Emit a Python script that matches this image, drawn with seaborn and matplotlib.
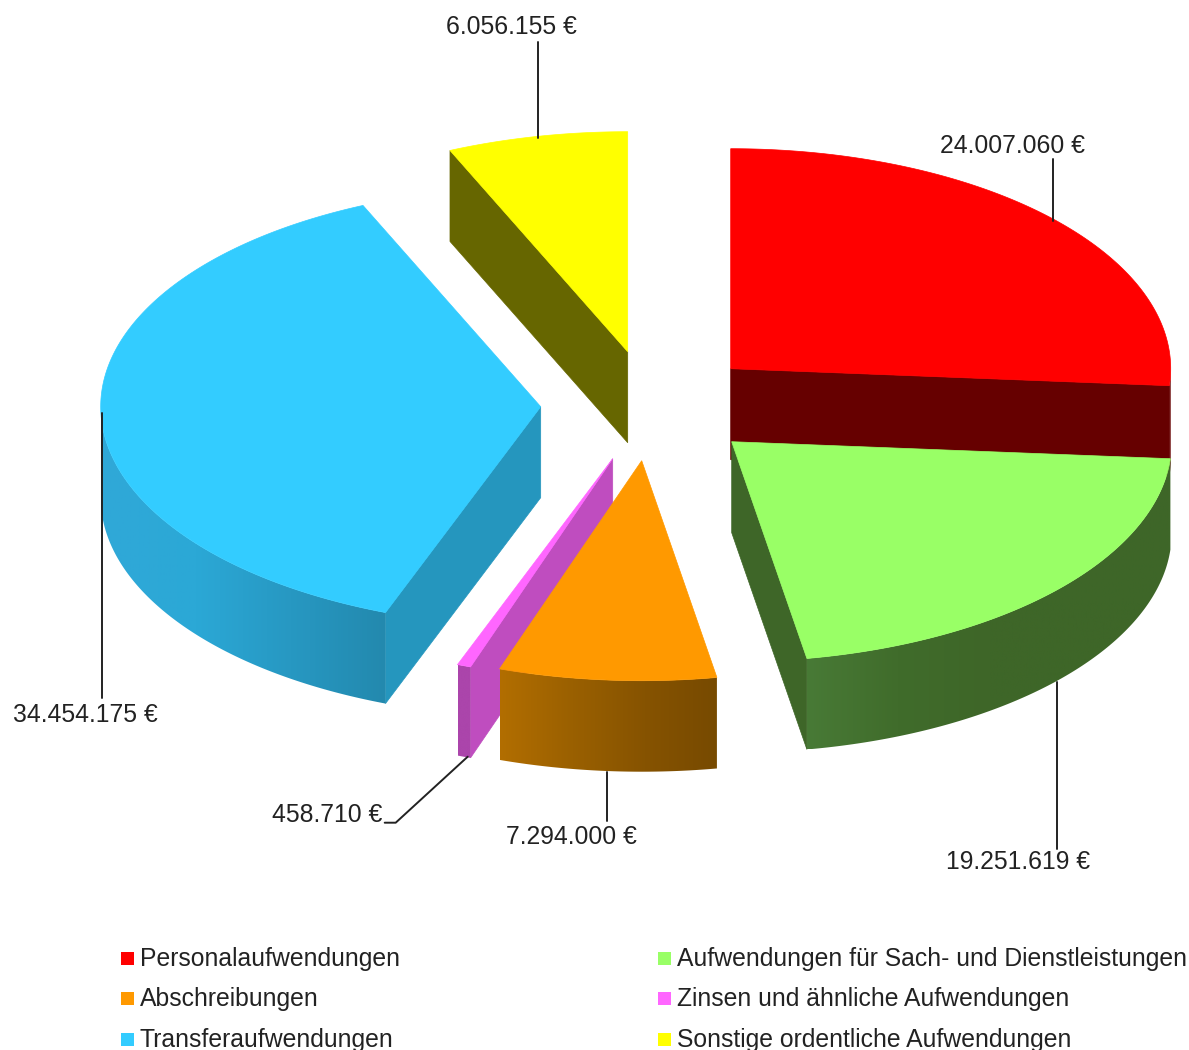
import numpy as np
import seaborn as sns
import matplotlib.pyplot as plt
from matplotlib.colors import LinearSegmentedColormap
from matplotlib.patches import Polygon

categories = ['Personalaufwendungen', 'Aufwendungen für Sach- und Dienstleistungen', 'Abschreibungen',
              'Zinsen und ähnliche Aufwendungen', 'Transferaufwendungen', 'Sonstige ordentliche Aufwendungen']
values = [24007060, 19251619, 7294000, 458710, 34454175, 6056155]
value_labels = ['24.007.060 €', '19.251.619 €', '7.294.000 €', '458.710 €', '34.454.175 €', '6.056.155 €']

top_colors = ['#ff0000', '#99ff66', '#ff9900', '#ff66ff', '#33ccff', '#ffff00']
face_colors = ['#660000', '#3e6628', '#7a4b00', '#bf4dbf', '#2596be', '#666600']
rim_colors = [['#660000', '#660000'],
              ['#487a36', '#406c2b', '#3e6628', '#3e6628', '#3e6628'],
              ['#b26e00', '#9a6000', '#865300', '#774a00'],
              ['#ab45ab', '#ab45ab'],
              ['#30a8d8', '#2ba8d6', '#2798c2', '#2389ae'],
              ['#666600', '#666600']]

# pie geometry in pixels, each slice has its own exploded apex
rx, ry, depth = 440, 220, 91
apex = [(730, 368), (731, 441), (641, 460), (612, 458), (540, 406), (627, 351)]
draw_order = [5, 0, 4, 3, 2, 1]

# leader lines and where the value labels go
leaders = [([1052, 1052], [158, 220]),
           ([1056, 1056], [681, 848]),
           ([606, 606], [771, 820]),
           ([467, 395, 384], [756, 822, 822]),
           ([101, 101], [412, 697]),
           ([537, 537], [41, 137])]
label_pos = [(1012, 145), (1017, 861), (571, 836), (326, 814), (85, 714), (511, 26)]

legend_x = [127, 664, 127, 664, 127, 664]
legend_y = [958, 958, 998, 998, 1039, 1039]

sns.set_theme(style='white')
plt.rcParams['font.family'] = ['Liberation Sans', 'DejaVu Sans']

fig, ax = plt.subplots(figsize=(11.89, 10.5), dpi=100)
fig.subplots_adjust(0, 0, 1, 1)
ax.set_axis_off()

# slice angles clockwise from 12 o'clock
ends = np.cumsum(values) / np.sum(values) * 2 * np.pi
starts = np.concatenate([[0], ends[:-1]])


def rim(i, a):
    return apex[i][0] + rx * np.sin(a), apex[i][1] - ry * np.cos(a)


def radial_face(i, a):
    x0, y0 = apex[i]
    x1, y1 = rim(i, a)
    ax.add_patch(Polygon([(x0, y0), (x1, y1), (x1, y1 + depth), (x0, y0 + depth)],
                         facecolor=face_colors[i], edgecolor=face_colors[i], lw=0.5, zorder=1.5))


for n, i in enumerate(draw_order):
    a0, a1 = starts[i], ends[i]
    # side walls first, then the outer wall, then the top
    if np.sin(a0) < -0.01:
        radial_face(i, a0)
    if np.sin(a1) > 0.01:
        radial_face(i, a1)

    lo, hi = max(a0, np.pi / 2), min(a1, 3 * np.pi / 2)
    if lo < hi:
        t = np.linspace(lo, hi, 150)
        xs, ys = rim(i, t)
        pts = np.r_[np.c_[xs, ys], np.c_[xs[::-1], ys[::-1] + depth]]
        grad = LinearSegmentedColormap.from_list('rim', rim_colors[i])
        im = ax.imshow(np.linspace(0, 1, 256)[None, :], cmap=grad, aspect='auto',
                       extent=(xs.min(), xs.max(), ys.max() + depth, ys.min()), zorder=1.5)
        im.set_clip_path(Polygon(pts, transform=ax.transData))

    t = np.linspace(a0, a1, 200)
    xs, ys = rim(i, t)
    ax.fill(np.r_[apex[i][0], xs], np.r_[apex[i][1], ys], color=top_colors[i], lw=0.5, zorder=2 + n * 0.01)

for (lx, ly) in leaders:
    sns.lineplot(x=lx, y=ly, sort=False, estimator=None, color='#222222', lw=1.4, ax=ax, zorder=5)

for txt, (tx, ty) in zip(value_labels, label_pos):
    ax.text(tx, ty, txt, ha='center', va='center', fontsize=17.85, color='#222222', zorder=6)

sns.scatterplot(x=legend_x, y=legend_y, hue=categories, palette=top_colors, marker='s', s=90,
                linewidth=0, legend=False, ax=ax, zorder=6, clip_on=False)
for txt, lx, ly in zip(categories, legend_x, legend_y):
    ax.text(lx + 12, ly, txt, ha='left', va='center', fontsize=17.85, color='#222222', zorder=6)

ax.set_xlim(-0.7, 1188.3)
ax.set_ylim(1049.3, -0.7)
fig.savefig('out.png', dpi=100)
